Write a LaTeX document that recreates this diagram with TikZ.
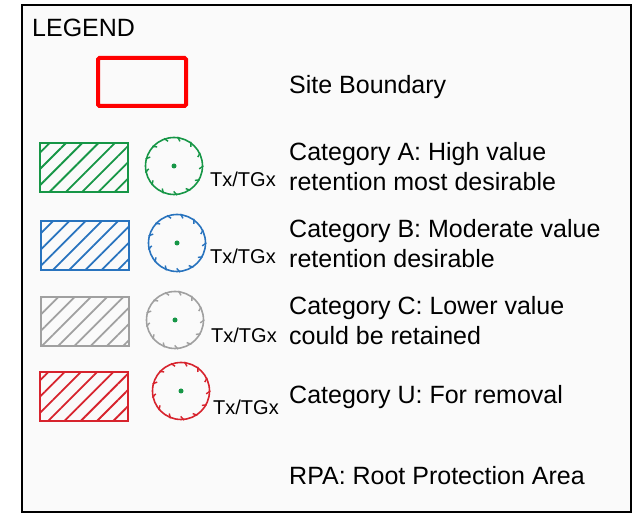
\documentclass[tikz,border=0pt]{standalone}
\usepackage{fontspec}
\setmainfont{Liberation Sans}
\usetikzlibrary{patterns.meta,positioning}

\definecolor{catgreen}{RGB}{22,150,70}
\definecolor{catblue}{RGB}{40,115,190}
\definecolor{catgray}{RGB}{160,160,160}
\definecolor{catred}{RGB}{215,35,45}
\definecolor{legbg}{RGB}{250,250,250}

\tikzstyle{hatchbox} = [
  rectangle, draw, line width = 2pt, minimum width = 88pt,
  minimum height = 49pt, inner sep = 0pt
]
\tikzstyle{treebox} = [
  circle, draw, line width = 1.6pt, minimum size = 57pt, inner sep = 0pt
]
\tikzstyle{legtext} = [
  anchor = west, align = left, inner sep = 0pt,
  font = \fontsize{25}{30}\selectfont
]
\tikzstyle{treetag} = [
  anchor = base west, inner sep = 0pt, font = \fontsize{20}{24}\selectfont
]

% hatched box of one colour
\newcommand{\hatchcat}[3]{%
  \node[hatchbox, draw = #1, pattern = {Lines[angle=45, distance=11.5pt,
    line width=1.8pt]}, pattern color = #1] (#2) at #3 {};
}
% tree symbol: circle with small inward ticks and a centre dot
\newcommand{\treecat}[3]{%
  \node[treebox, draw = #1] (#2) at #3 {};
  \foreach \a in {0,27.7,...,359} {
    \draw[#1, line width = 1.4pt] (#2.\a) -- ++(\a+215:5pt);
  }
  \fill[catgreen] (#2.center) circle (2.5pt);
}

\begin{document}
\begin{tikzpicture}[x=1pt, y=-1pt]
  \useasboundingbox (0,0) rectangle (635,518);
  \draw[line width = 2pt, fill = legbg] (22,5) rectangle (631,512);

  \node[anchor = base west, inner sep = 0pt,
    font = \fontsize{25}{30}\selectfont] (title) at (32,37) {LEGEND};

  \draw[red, line width = 4pt, rounded corners = 1.5pt] (98,58) rectangle (186,106);
  \node[legtext] (site) at (289,87) {Site Boundary};

  % category A
  \hatchcat{catgreen}{hatcha}{(84,168)}
  \treecat{catgreen}{treea}{(174,166)}
  \node[treetag] (taga) at (210,187) {Tx/TGx};
  \node[legtext] (lbla) at (289,167) {Category A: High value\\retention most desirable};

  % category B
  \hatchcat{catblue}{hatchb}{(85,246)}
  \treecat{catblue}{treeb}{(177,243)}
  \node[treetag] (tagb) at (210,264) {Tx/TGx};
  \node[legtext] (lblb) at (289,244) {Category B: Moderate value\\retention desirable};

  % category C
  \hatchcat{catgray}{hatchc}{(85,322)}
  \treecat{catgray}{treec}{(175,320)}
  \node[treetag] (tagc) at (211,343) {Tx/TGx};
  \node[legtext] (lblc) at (289,321) {Category C: Lower value\\could be retained};

  % category U
  \hatchcat{catred}{hatchu}{(84,397)}
  \treecat{catred}{treeu}{(181,391)}
  \node[treetag] (tagu) at (213,415) {Tx/TGx};
  \node[legtext] (lblu) at (289,397) {Category U: For removal};

  \node[legtext] (rpa) at (289,476) {RPA: Root Protection Area};
\end{tikzpicture}
\end{document}
